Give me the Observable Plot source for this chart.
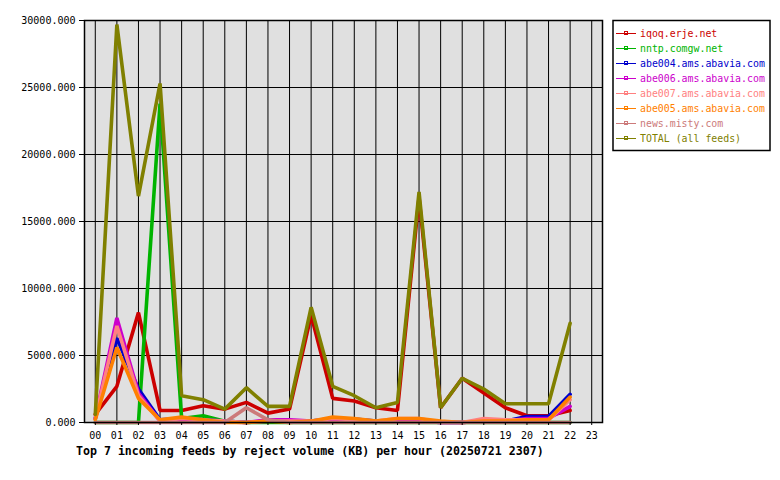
<!DOCTYPE html>
<html>
<head>
<meta charset="utf-8">
<script src="https://cdn.jsdelivr.net/npm/d3@7"></script>
<script src="https://cdn.jsdelivr.net/npm/@observablehq/plot@0.6"></script>
<style>
  html, body { margin: 0; padding: 0; background: white; }
</style>
</head>
<body>
<div id="chart"></div>
<script>
const hourLabels = ["00","01","02","03","04","05","06","07","08","09","10","11","12","13","14","15","16","17","18","19","20","21","22","23"];
const names = ["iqoq.erje.net","nntp.comgw.net","abe004.ams.abavia.com","abe006.ams.abavia.com","abe007.ams.abavia.com","abe005.ams.abavia.com","news.misty.com","TOTAL (all feeds)"];
const colors = ["#cc0000","#00b400","#0000cc","#cc00cc","#ff8080","#ff8000","#cc7a7a","#808000"];

const iqoq   = [600, 2700, 8200, 900, 900, 1250, 1000, 1500, 700, 1000, 8000, 1800, 1600, 1100, 900, 16800, 1100, 3300, 2200, 1100, 500, 500, 900];
const nntp   = [0, 0, 0, 23800, 300, 500, 100, 0, 0, 0, 0, 0, 0, 0, 0, 0, 0, 0, 0, 0, 0, 0, 0];
const abe004 = [300, 6300, 2500, 200, 300, 200, 100, 0, 100, 100, 100, 300, 250, 100, 100, 100, 0, 0, 100, 100, 450, 450, 2100];
const abe006 = [300, 7800, 2200, 100, 100, 100, 50, 0, 200, 200, 100, 100, 100, 50, 100, 100, 0, 0, 100, 100, 300, 300, 1200];
const abe007 = [300, 7200, 2000, 100, 300, 200, 100, 0, 100, 100, 100, 300, 200, 100, 300, 300, 0, 0, 300, 200, 200, 200, 1700];
const abe005 = [200, 5600, 1800, 200, 400, 200, 0, 0, 100, 0, 100, 400, 300, 100, 300, 300, 100, 0, 100, 100, 200, 200, 1900];
const misty  = [0, 0, 0, 0, 0, 0, 0, 1100, 200, 0, 0, 0, 0, 0, 0, 0, 0, 0, 0, 0, 0, 0, 0];
const total  = [600, 29700, 16900, 25300, 2000, 1700, 1000, 2600, 1200, 1200, 8600, 2700, 2000, 1100, 1500, 17200, 1100, 3300, 2500, 1400, 1400, 1400, 7400];
const yTicks = [0, 5000, 10000, 15000, 20000, 25000, 30000];
const title = "Top 7 incoming feeds by reject volume (KB) per hour (20250721 2307)";

const seriesValues = [iqoq, nntp, abe004, abe006, abe007, abe005, misty, total];
const rows = names.flatMap((n, k) => seriesValues[k].map((v, i) => ({hour: i, value: v, name: n})));
const hourTicks = hourLabels.map((_, i) => i);

const font = "'DejaVu Sans Mono', monospace";

const chart = Plot.plot({
  width: 780,
  height: 480,
  marginLeft: 84,
  marginRight: 178,
  marginTop: 20,
  marginBottom: 58,
  style: {background: "white", fontFamily: font, fontSize: "10px", color: "black", overflow: "visible"},
  x: {domain: [-0.5, 23.5]},
  y: {domain: [0, 30000]},
  color: {domain: names, range: colors},
  marks: [
    Plot.frame({fill: "#e0e0e0"}),
    Plot.gridX(hourTicks, {stroke: "black", strokeOpacity: 1, strokeWidth: 1}),
    Plot.gridY(yTicks, {stroke: "black", strokeOpacity: 1, strokeWidth: 1}),
    Plot.line(rows, {x: "hour", y: "value", z: "name", stroke: "name", strokeWidth: 3.6, strokeLinejoin: "miter"}),
    Plot.frame({stroke: "black", strokeWidth: 1.5}),
    Plot.axisX(hourTicks, {tickSize: 3, tickPadding: 6, label: null, tickFormat: i => hourLabels[i], stroke: "black", fontSize: 10}),
    Plot.axisY(yTicks, {tickSize: 5, tickPadding: 4, label: null, tickFormat: d => d.toFixed(3), stroke: "black", fontSize: 10})
  ]
});

const svg = d3.select(chart);
svg.append("text")
  .attr("x", 76).attr("y", 455)
  .attr("text-anchor", "start")
  .attr("font-family", font).attr("font-weight", "bold").attr("font-size", "11.6px")
  .attr("fill", "black")
  .text(title);

const lg = svg.append("g").attr("text-anchor", "start");
lg.append("rect").attr("x", 613).attr("y", 20.5).attr("width", 157).attr("height", 130)
  .attr("fill", "white").attr("stroke", "black").attr("stroke-width", 1.5);
names.forEach((n, k) => {
  const yy = 33.5 + k * 15;
  lg.append("line").attr("x1", 616).attr("x2", 636).attr("y1", yy).attr("y2", yy)
    .attr("stroke", colors[k]).attr("stroke-width", 1);
  lg.append("rect").attr("x", 624.5).attr("y", yy - 2).attr("width", 3).attr("height", 3)
    .attr("fill", "none").attr("stroke", colors[k]).attr("stroke-width", 1);
  lg.append("text").attr("x", 640).attr("y", yy + 3.5)
    .attr("text-anchor", "start")
    .attr("font-family", font).attr("font-size", "9.9px").attr("fill", colors[k]).text(n);
});

document.getElementById("chart").appendChild(chart);
</script>
</body>
</html>
